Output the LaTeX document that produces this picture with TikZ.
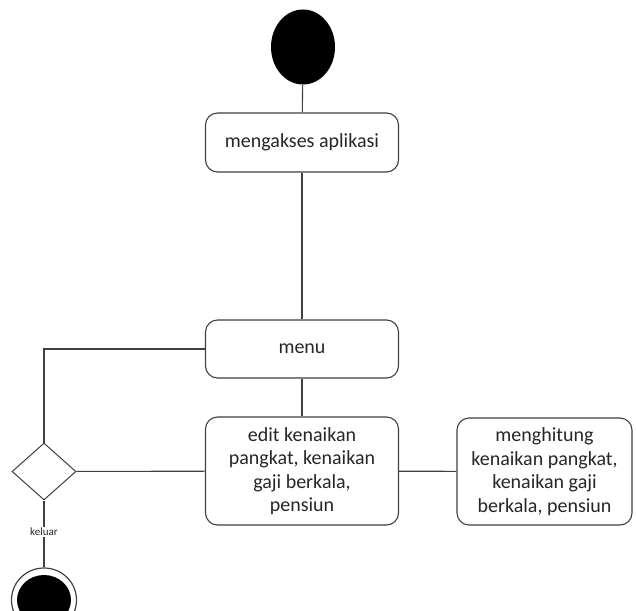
\documentclass[tikz,border=0pt]{standalone}
\usepackage{fontspec}
\setmainfont{Carlito}
\usetikzlibrary{shapes.geometric}
\begin{document}
\begin{tikzpicture}[x=1pt,y=-1pt,
  line/.style={draw=black!75, line width=1.1pt},
  action/.style={draw=black!75, line width=1.1pt, rounded corners=12pt, fill=white,
    align=center, inner sep=2pt, text=black!85,
    font=\fontsize{20}{23.5}\selectfont},
  decision/.style={diamond, draw=black!75, line width=1pt, fill=white,
    minimum width=64pt, minimum height=57pt, inner sep=0pt, aspect=1.12},
  guard/.style={fill=white, inner sep=1pt, text=black!85,
    font=\fontsize{11}{12}\selectfont}]
  \useasboundingbox (0,0) rectangle (636,610);
  \clip (0,0) rectangle (636,610);

  % start node
  \node (start) [ellipse, fill=black, minimum width=64pt, minimum height=75pt,
    inner sep=0pt] at (303,47) {};

  % actions
  \node (akses) [action, minimum width=193pt, minimum height=59pt] at (302,142.5)
    {mengakses aplikasi};
  \node (menu) [action, minimum width=193pt, minimum height=58pt] at (302,349)
    {menu};
  \node (edit) [action, minimum width=193pt, minimum height=108pt] at (302,471)
    {edit kenaikan\\pangkat, kenaikan\\gaji berkala,\\pensiun};
  \node (hitung) [action, minimum width=175pt, minimum height=107pt] at (544.5,471.5)
    {menghitung\\kenaikan pangkat,\\kenaikan gaji\\berkala, pensiun};

  % decision
  \node (dec) [decision] at (44,471.5) {};

  % final node
  \node (final) [ellipse, draw=black!75, line width=1.2pt, fill=white,
    minimum width=65pt, minimum height=64pt, inner sep=0pt] at (44,600) {};
  \node (finalin) [ellipse, fill=black, minimum width=54pt, minimum height=50pt,
    inner sep=0pt] at (final.center) {};

  % connectors
  \draw[line] (start) -- (akses);
  \draw[line] (akses) -- (menu);
  \draw[line] (menu) -- (edit);
  \draw[line] (edit) -- (hitung);
  \draw[line] (dec) -- (edit);
  \draw[line] (menu.west) -| (dec.north);
  \draw[line] (dec.south) -- node[guard, pos=0.47] (klabel) {keluar} (final.north);
\end{tikzpicture}
\end{document}
